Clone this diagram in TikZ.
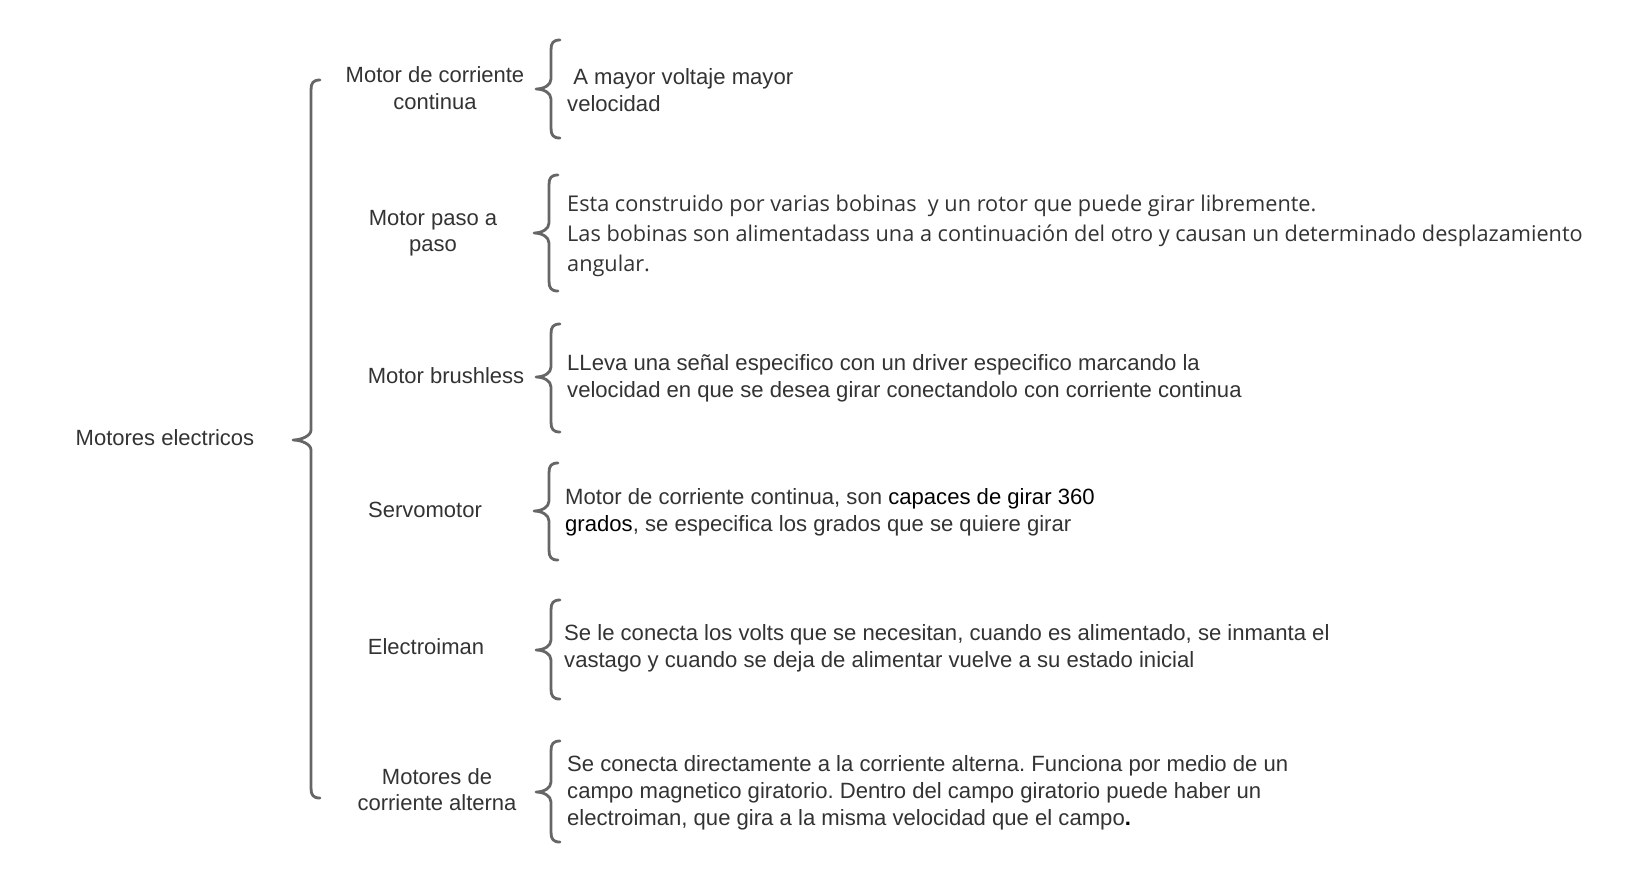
\documentclass[tikz,border=0pt]{standalone}
\usepackage{fontspec}
\setmainfont{Liberation Sans}
\newfontfamily\opensans{Open Sans}
\definecolor{txtgray}{HTML}{333333}
\definecolor{bracegray}{HTML}{666666}
\newcommand\curlybrace[5]{%
  \draw[bracestyle] ({#1+9},#2) .. controls ({#1+2},#2) and (#1,{#2+3}) .. (#1,{#2+10})
    -- (#1,{#3-10}) .. controls (#1,{#3-4}) and ({#1-#5+8},#3) .. ({#1-#5},#3)
    .. controls ({#1-#5+8},#3) and (#1,{#3+4}) .. (#1,{#3+10})
    -- (#1,{#4-10}) .. controls (#1,{#4-3}) and ({#1+2},#4) .. ({#1+9},#4);}
\begin{document}
\frenchspacing
\begin{tikzpicture}[x=1pt,y=-1pt,
  bracestyle/.style={draw=bracegray,line width=2.8pt,line cap=round,line join=round},
  lbl/.style={text=txtgray,font=\fontsize{22}{26.5}\selectfont,align=center,inner sep=0pt},
  desc/.style={text=txtgray,font=\fontsize{22.1}{27.2}\selectfont,align=left,anchor=west,inner sep=0pt},
  descos/.style={text=txtgray,font=\opensans\fontsize{21.7}{30}\selectfont,align=left,anchor=west,inner sep=0pt}]
\useasboundingbox[fill=white] (0,0) rectangle (1640,884);

% root
\node[lbl] (root) at (165,437.5) {Motores electricos};
\curlybrace{311}{80}{440}{798}{18}

% labels
\node[lbl] (l1) at (435,88) {Motor de corriente\\continua};
\node[lbl] (l2) at (433,233) {Motor paso a\\paso};
\node[lbl] (l3) at (446,376) {Motor brushless};
\node[lbl] (l4) at (425,510) {Servomotor};
\node[lbl] (l5) at (426,647) {Electroiman};
\node[lbl] (l6) at (437,789.5) {Motores de\\corriente alterna};

% sub braces
\curlybrace{551}{40}{89}{138}{15}
\curlybrace{549}{175}{233}{291}{15}
\curlybrace{551}{324}{377}{432}{15}
\curlybrace{549}{463}{511}{560}{15}
\curlybrace{551}{600}{650}{699}{15}
\curlybrace{551}{741}{792}{842}{15}

% descriptions
\node[desc] (d1) at (567,90) {\ A mayor voltaje mayor\\velocidad};
\node[descos] (d2) at (567,236) {Esta construido por varias bobinas \ y un rotor que puede girar libremente.\\Las bobinas son alimentadass una a continuación del otro y causan un determinado desplazamiento\\angular.};
\node[desc] (d3) at (567,378) {LLeva una señal especifico con un driver especifico marcando la\\velocidad en que se desea girar conectandolo con corriente continua};
\node[desc] (d4) at (565,512.5) {Motor de corriente continua, son {\color{black}capaces de girar 360}\\{\color{black}grados}, se especifica los grados que se quiere girar};
\node[desc] (d5) at (564,648.5) {Se le conecta los volts que se necesitan, cuando es alimentado, se inmanta el\\vastago y cuando se deja de alimentar vuelve a su estado inicial};
\node[desc] (d6) at (567,792.5) {Se conecta directamente a la corriente alterna. Funciona por medio de un\\campo magnetico giratorio. Dentro del campo giratorio puede haber un\\electroiman, que gira a la misma velocidad que el campo{\color{black}\bfseries .}};
\end{tikzpicture}
\end{document}
